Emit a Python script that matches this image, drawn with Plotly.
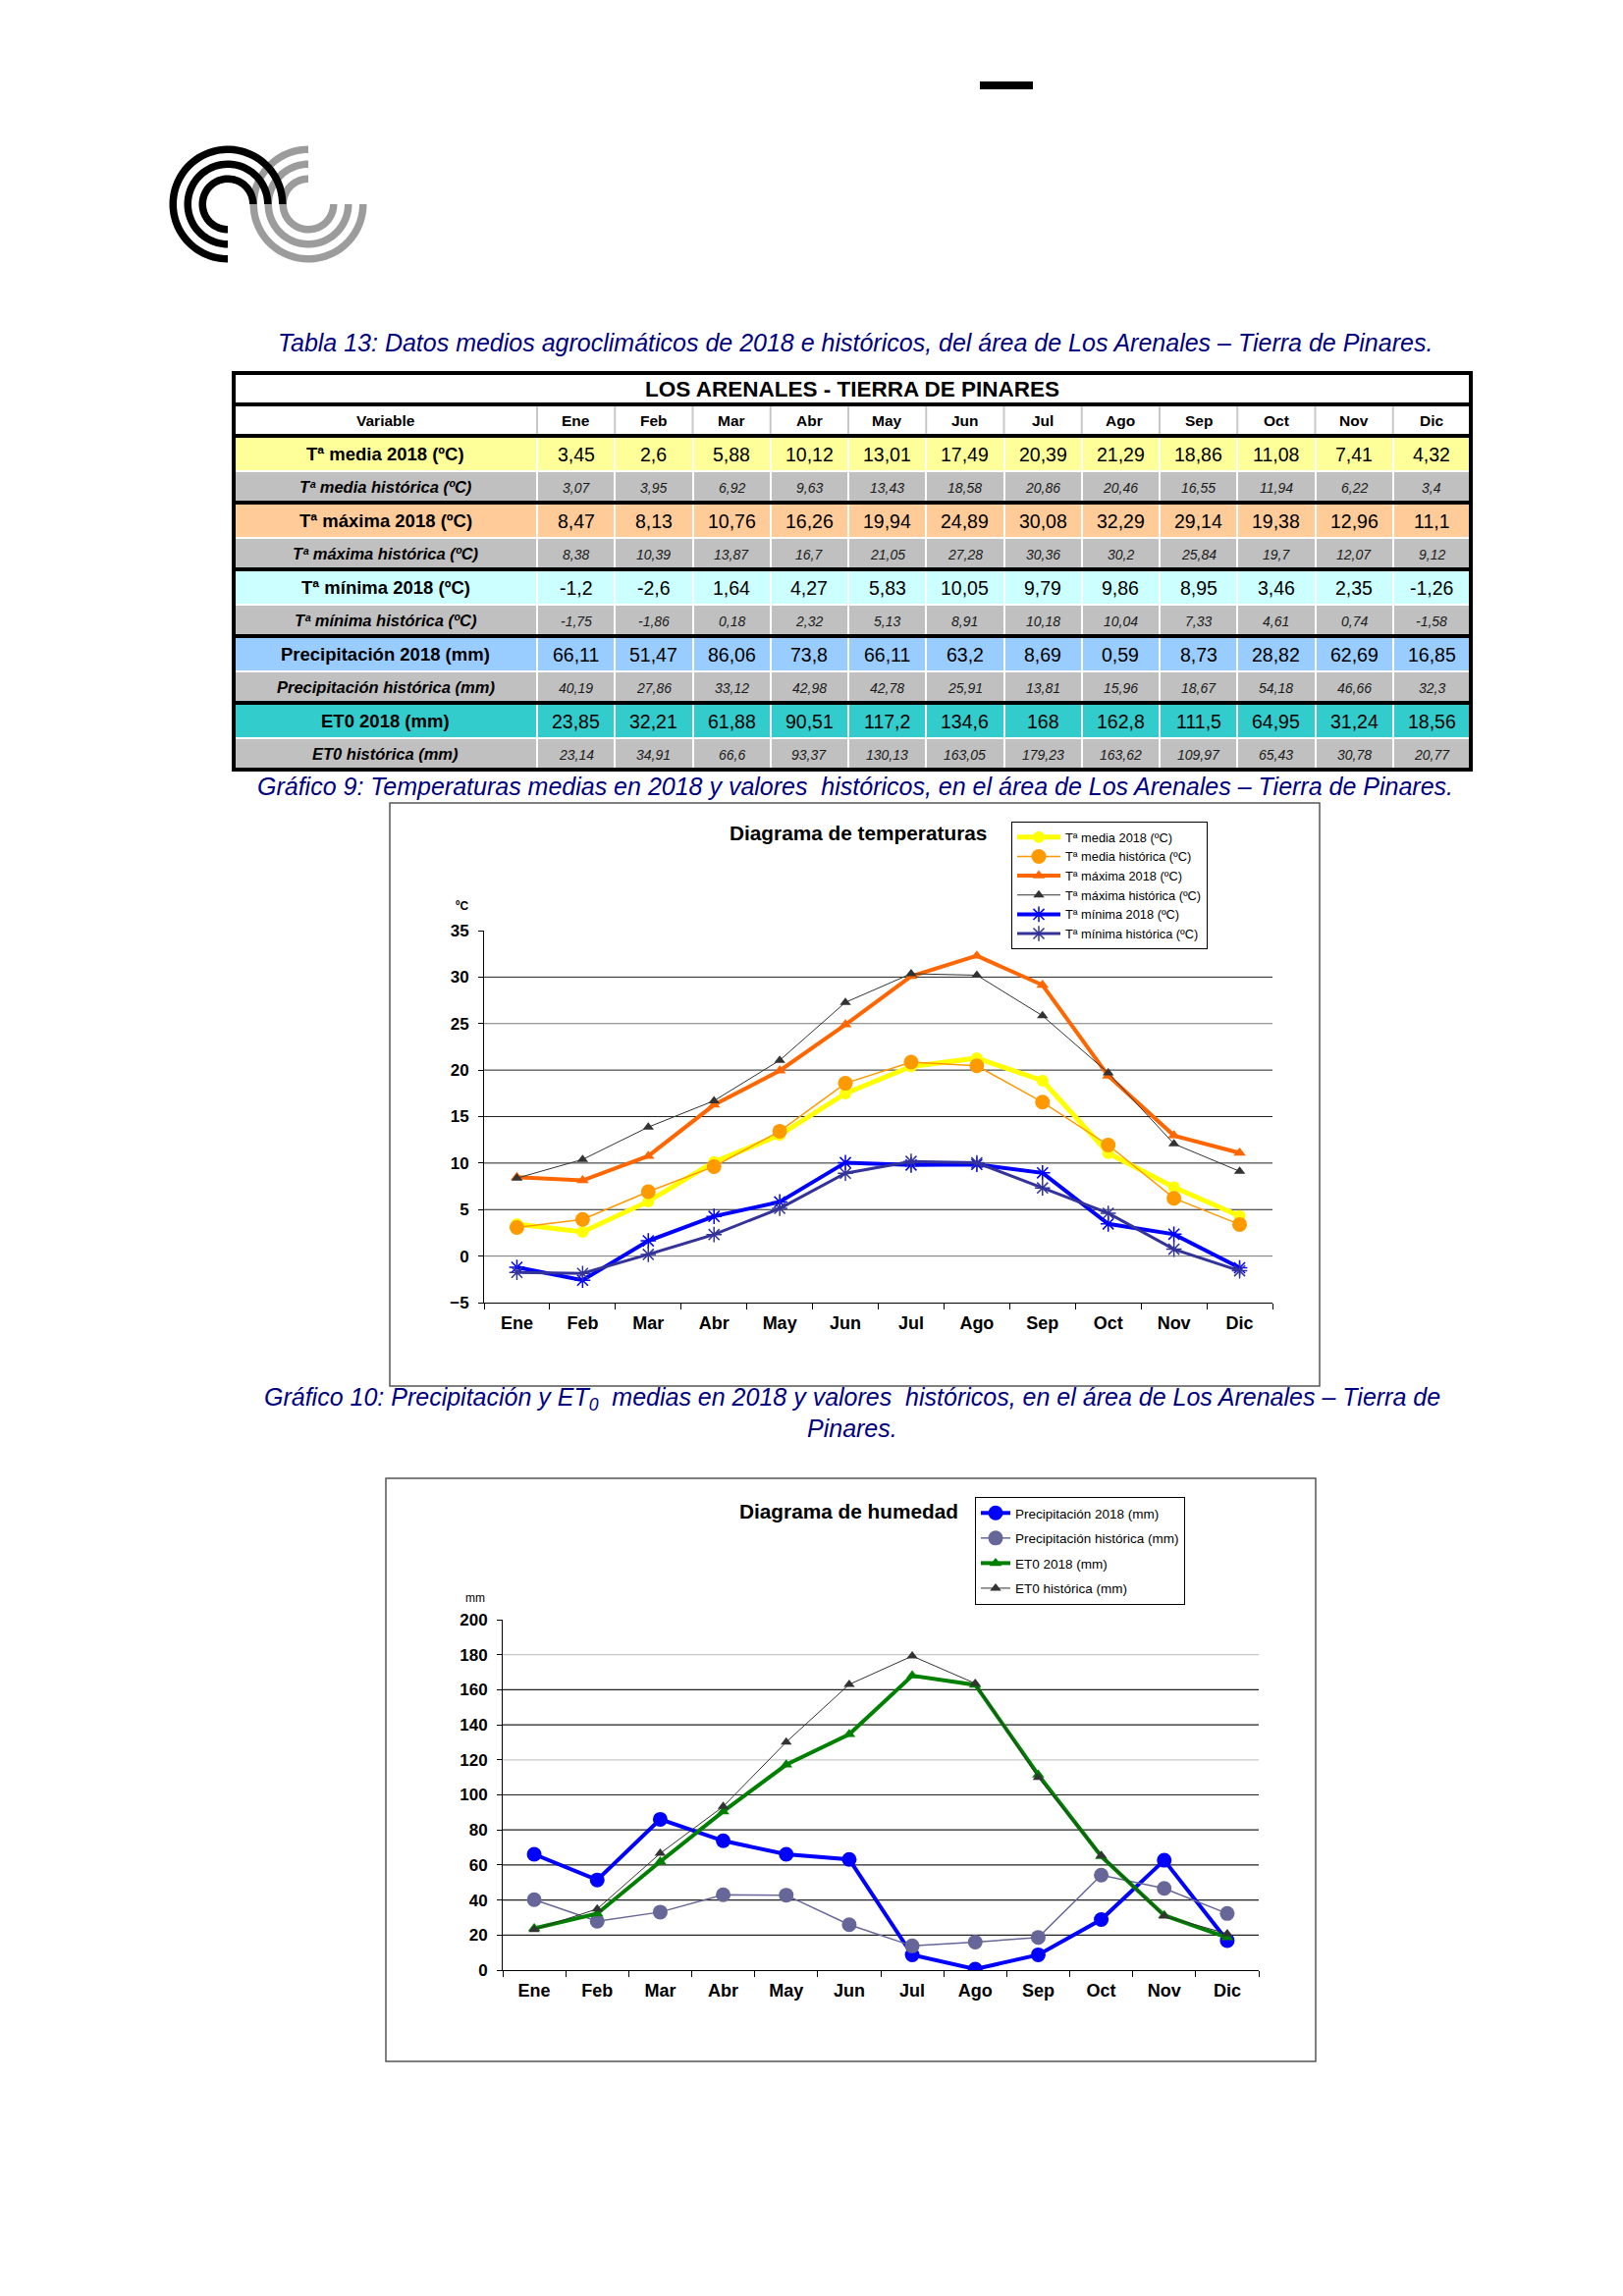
import numpy as np
import plotly.graph_objects as go

# ---------------- DATA ----------------
MONTHS = ["Ene", "Feb", "Mar", "Abr", "May", "Jun", "Jul", "Ago", "Sep", "Oct", "Nov", "Dic"]

T_MEDIA_2018 = [3.45, 2.6, 5.88, 10.12, 13.01, 17.49, 20.39, 21.29, 18.86, 11.08, 7.41, 4.32]
T_MEDIA_HIST = [3.07, 3.95, 6.92, 9.63, 13.43, 18.58, 20.86, 20.46, 16.55, 11.94, 6.22, 3.4]
T_MAX_2018 = [8.47, 8.13, 10.76, 16.26, 19.94, 24.89, 30.08, 32.29, 29.14, 19.38, 12.96, 11.1]
T_MAX_HIST = [8.38, 10.39, 13.87, 16.7, 21.05, 27.28, 30.36, 30.2, 25.84, 19.7, 12.07, 9.12]
T_MIN_2018 = [-1.2, -2.6, 1.64, 4.27, 5.83, 10.05, 9.79, 9.86, 8.95, 3.46, 2.35, -1.26]
T_MIN_HIST = [-1.75, -1.86, 0.18, 2.32, 5.13, 8.91, 10.18, 10.04, 7.33, 4.61, 0.74, -1.58]
PREC_2018 = [66.11, 51.47, 86.06, 73.8, 66.11, 63.2, 8.69, 0.59, 8.73, 28.82, 62.69, 16.85]
PREC_HIST = [40.19, 27.86, 33.12, 42.98, 42.78, 25.91, 13.81, 15.96, 18.67, 54.18, 46.66, 32.3]
ET0_2018 = [23.85, 32.21, 61.88, 90.51, 117.2, 134.6, 168, 162.8, 111.5, 64.95, 31.24, 18.56]
ET0_HIST = [23.14, 34.91, 66.6, 93.37, 130.13, 163.05, 179.23, 163.62, 109.97, 65.43, 30.78, 20.77]

ROW_LABELS = ["Tª media 2018 (ºC)", "Tª media histórica (ºC)",
              "Tª máxima 2018 (ºC)", "Tª máxima histórica (ºC)",
              "Tª mínima 2018 (ºC)", "Tª mínima histórica (ºC)",
              "Precipitación 2018 (mm)", "Precipitación histórica (mm)",
              "ET0 2018 (mm)", "ET0 histórica (mm)"]
ROW_VALUES = [T_MEDIA_2018, T_MEDIA_HIST, T_MAX_2018, T_MAX_HIST, T_MIN_2018, T_MIN_HIST,
              PREC_2018, PREC_HIST, ET0_2018, ET0_HIST]

TABLE_TITLE = "LOS ARENALES - TIERRA DE PINARES"
HEADER_FIRST = "Variable"

CAPTION_TABLE = "Tabla 13: Datos medios agroclimáticos de 2018 e históricos, del área de Los Arenales – Tierra de Pinares."
CAPTION_G9 = "Gráfico 9: Temperaturas medias en 2018 y valores  históricos, en el área de Los Arenales – Tierra de Pinares."
CAPTION_G10_L1 = "Gráfico 10: Precipitación y ET<sub>0</sub>  medias en 2018 y valores  históricos, en el área de Los Arenales – Tierra de"
CAPTION_G10_L2 = "Pinares."
TITLE_G9 = "Diagrama de temperaturas"
TITLE_G10 = "Diagrama de humedad"

TEMP_TICKS = [-5, 0, 5, 10, 15, 20, 25, 30, 35]
HUM_TICKS = [0, 20, 40, 60, 80, 100, 120, 140, 160, 180, 200]

# ---------------- PAGE GEOMETRY ----------------
OFF = 8
FIG_W, FIG_H = 1630, 2300
FONT = "Liberation Sans, Arial, Helvetica, sans-serif"
NAVY = "#000080"


def px(x):
    return (x - OFF) / FIG_W


def py(y):
    return 1 - (y - OFF) / FIG_H


fig = go.Figure()
shapes = []
annotations = []

# ---------------- TABLE (heatmap on page-pixel axis) ----------------
ROW_FILLS = ["#FFFF99", "#C0C0C0", "#FFCC99", "#C0C0C0", "#CCFFFF", "#C0C0C0",
             "#99CCFF", "#C0C0C0", "#33CCCC", "#C0C0C0"]
PALETTE = ["#FFFFFF", "#FFFF99", "#C0C0C0", "#FFCC99", "#CCFFFF", "#99CCFF", "#33CCCC"]
T_LEFT, T_TOP = 238, 380
VAR_W, MON_W = 309, 79.25
row_heights = [32, 32] + [36, 32] * 5
row_edges = list(np.cumsum([T_TOP] + row_heights))
col_edges = [T_LEFT, T_LEFT + VAR_W] + [T_LEFT + VAR_W + MON_W * (k + 1) for k in range(12)]
T_RIGHT = col_edges[-1]

zrows = [[0] * 13, [0] * 13]
for fc in ROW_FILLS:
    zrows.append([PALETTE.index(fc)] * 13)
cs = []
n = len(PALETTE)
for i, c in enumerate(PALETTE):
    cs.append([i / n, c])
    cs.append([(i + 1) / n, c])

fig.add_trace(go.Heatmap(x=col_edges, y=row_edges, z=zrows, colorscale=cs, zmin=0, zmax=n - 1,
                         showscale=False, xgap=2, ygap=2, hoverinfo="skip",
                         xaxis="x3", yaxis="y3", showlegend=False))

# header light separators
for xe in col_edges[1:-1]:
    shapes.append(dict(type="line", xref="x3", yref="y3", x0=xe, x1=xe, y0=row_edges[1] + 2,
                       y1=row_edges[2] - 2, line=dict(color="#C8C8C8", width=2)))
# thick black lines
for k in [1, 2, 4, 6, 8, 10]:
    shapes.append(dict(type="line", xref="x3", yref="y3", x0=T_LEFT, x1=T_RIGHT,
                       y0=row_edges[k], y1=row_edges[k], line=dict(color="black", width=4)))
shapes.append(dict(type="rect", xref="x3", yref="y3", x0=T_LEFT, x1=T_RIGHT, y0=T_TOP,
                   y1=row_edges[-1], line=dict(color="black", width=4)))


def mid(a, i):
    return (a[i] + a[i + 1]) / 2


def fmt(v):
    return f"{v:g}".replace(".", ",")


annotations.append(dict(xref="x3", yref="y3", x=(T_LEFT + T_RIGHT) / 2, y=mid(row_edges, 0),
                        text=TABLE_TITLE, showarrow=False,
                        font=dict(family=FONT, size=22.5, color="black", weight="bold")))
for j, h in enumerate([HEADER_FIRST] + MONTHS):
    annotations.append(dict(xref="x3", yref="y3", x=mid(col_edges, j), y=mid(row_edges, 1),
                            text=h, showarrow=False,
                            font=dict(family=FONT, size=15.5, color="black", weight="bold")))
for r, (lab, vals) in enumerate(zip(ROW_LABELS, ROW_VALUES)):
    yc = mid(row_edges, r + 2)
    is_hist = r % 2 == 1
    if is_hist:
        lf = dict(family=FONT, size=16.5, color="black", weight="bold", style="italic")
        vf = dict(family=FONT, size=14, color="#1a1a1a", style="italic")
    else:
        lf = dict(family=FONT, size=18.5, color="black", weight="bold")
        vf = dict(family=FONT, size=19.5, color="black")
    annotations.append(dict(xref="x3", yref="y3", x=mid(col_edges, 0), y=yc, text=lab,
                            showarrow=False, font=lf))
    for j, v in enumerate(vals):
        annotations.append(dict(xref="x3", yref="y3", x=mid(col_edges, j + 1), y=yc + 1,
                                text=fmt(v), showarrow=False, font=vf))

# ---------------- CAPTIONS ----------------
cap_font = dict(family=FONT, size=25, color=NAVY, style="italic")
for txt, xc, yc in [(CAPTION_TABLE, 871, 349), (CAPTION_G9, 871, 801),
                    (CAPTION_G10_L1, 868, 1425), (CAPTION_G10_L2, 868, 1455)]:
    annotations.append(dict(xref="x3", yref="y3", x=xc, y=yc, text=txt, showarrow=False,
                            font=cap_font))

# ---------------- LOGO + top dash ----------------
def ring_sector(cx, cy, r_in, r_out, a0, a1, npts=72):
    t = np.radians(np.linspace(a0, a1, npts))
    pts = [(cx + r_out * np.cos(a), cy - r_out * np.sin(a)) for a in t]
    pts += [(cx + r_in * np.cos(a), cy - r_in * np.sin(a)) for a in t[::-1]]
    return "M " + " L ".join(f"{x:.2f},{y:.2f}" for x, y in pts) + " Z"


LOGO_BANDS = [(22, 29.5), (37, 44.5), (52, 59.5)]
for r_in, r_out in LOGO_BANDS:
    shapes.append(dict(type="path", xref="x3", yref="y3", path=ring_sector(314, 208, r_in, r_out, 90, 360),
                       fillcolor="#9C9C9C", line=dict(width=0)))
for r_in, r_out in LOGO_BANDS:
    shapes.append(dict(type="path", xref="x3", yref="y3", path=ring_sector(232, 208, r_in, r_out, 0, 270),
                       fillcolor="#000000", line=dict(width=0)))
shapes.append(dict(type="rect", xref="x3", yref="y3", x0=998, x1=1052, y0=83, y1=91,
                   fillcolor="black", line=dict(width=0)))

# ---------------- CHART FRAMES & TITLES ----------------
shapes.append(dict(type="rect", xref="x3", yref="y3", x0=397, x1=1344, y0=818, y1=1412,
                   line=dict(color="#555555", width=1.5)))
shapes.append(dict(type="rect", xref="x3", yref="y3", x0=393, x1=1340, y0=1506, y1=2100,
                   line=dict(color="#555555", width=1.5)))
annotations.append(dict(xref="x3", yref="y3", x=874, y=848, text=TITLE_G9, showarrow=False,
                        font=dict(family=FONT, size=20.8, color="black", weight="bold")))
annotations.append(dict(xref="x3", yref="y3", x=864, y=1539, text=TITLE_G10, showarrow=False,
                        font=dict(family=FONT, size=20.8, color="black", weight="bold")))
annotations.append(dict(xref="x3", yref="y3", x=470, y=923, text="ºC", showarrow=False,
                        font=dict(family=FONT, size=12, color="black", weight="bold")))
annotations.append(dict(xref="x3", yref="y3", x=484, y=1628, text="mm", showarrow=False,
                        font=dict(family=FONT, size=12, color="black")))

# ---------------- CHART 1: temperatures ----------------
temp_styles = [
    (ROW_LABELS[0], T_MEDIA_2018, dict(color="#FFFF00", width=5), dict(symbol="circle", size=12, color="#FFFF00")),
    (ROW_LABELS[1], T_MEDIA_HIST, dict(color="#FF9900", width=1.5), dict(symbol="circle", size=15, color="#FF9900")),
    (ROW_LABELS[2], T_MAX_2018, dict(color="#FF6600", width=4), dict(symbol="triangle-up", size=11, color="#FF6600")),
    (ROW_LABELS[3], T_MAX_HIST, dict(color="#333333", width=1), dict(symbol="triangle-up", size=10, color="#333333")),
    (ROW_LABELS[4], T_MIN_2018, dict(color="#0000FF", width=4),
     dict(symbol="asterisk-open", size=13, color="#0000FF", line=dict(color="#0000FF", width=1.5))),
    (ROW_LABELS[5], T_MIN_HIST, dict(color="#333399", width=3),
     dict(symbol="asterisk-open", size=13, color="#333399", line=dict(color="#333399", width=1.5))),
]
for name, vals, ln, mk in temp_styles:
    fig.add_trace(go.Scatter(x=MONTHS, y=vals, name=name, mode="lines+markers", line=ln, marker=mk,
                             xaxis="x", yaxis="y", legend="legend", hoverinfo="skip"))

# ---------------- CHART 2: humidity ----------------
hum_styles = [
    (ROW_LABELS[6], PREC_2018, dict(color="#0000FF", width=4), dict(symbol="circle", size=15, color="#0000FF")),
    (ROW_LABELS[7], PREC_HIST, dict(color="#666699", width=1.5), dict(symbol="circle", size=15, color="#666699")),
    (ROW_LABELS[8], ET0_2018, dict(color="#008000", width=4), dict(symbol="triangle-up", size=11, color="#008000")),
    (ROW_LABELS[9], ET0_HIST, dict(color="#333333", width=1), dict(symbol="triangle-up", size=10, color="#333333")),
]
for k, (name, vals, ln, mk) in enumerate(hum_styles):
    fig.add_trace(go.Scatter(x=MONTHS, y=vals, name=name, mode="lines+markers", line=ln, marker=mk,
                             xaxis="x2", yaxis="y2", legend="legend2", legendgroup=f"h{k}",
                             hoverinfo="skip"))

# gridlines
for v in [0, 5, 10, 15, 20, 25, 30]:
    col = "#777777" if v in (0, 25) else "#222222"
    shapes.append(dict(type="line", xref="x domain", yref="y", x0=0, x1=1, y0=v, y1=v,
                       line=dict(color=col, width=1), layer="below"))
for v in [20, 40, 60, 80, 100, 120, 140, 160, 180]:
    col = "#C8C8C8" if v in (120, 180) else "#222222"
    shapes.append(dict(type="line", xref="x2 domain", yref="y2", x0=0, x1=1, y0=v, y1=v,
                       line=dict(color=col, width=1.2), layer="below"))

xcommon = dict(type="category", tickson="boundaries", ticks="outside", ticklen=6, tickcolor="black",
               showline=True, linecolor="black", linewidth=1, showgrid=False, zeroline=False,
               tickfont=dict(family=FONT, size=18, color="black", weight="bold"),
               ticklabelstandoff=4, fixedrange=True, categoryorder="array", categoryarray=MONTHS,
               range=[-0.5, len(MONTHS) - 0.5], autorange=False)
ycommon = dict(ticks="outside", ticklen=5, tickcolor="black", showline=True, linecolor="black",
               linewidth=1, showgrid=False, zeroline=False,
               tickfont=dict(family=FONT, size=17, color="black", weight="bold"), fixedrange=True,
               ticklabelstandoff=6)

fig.update_layout(
    width=FIG_W, height=FIG_H, margin=dict(l=0, r=0, t=0, b=0, pad=0, autoexpand=False),
    paper_bgcolor="white", plot_bgcolor="rgba(0,0,0,0)",
    showlegend=True,
    xaxis=dict(domain=[px(493), px(1296)], anchor="y", **xcommon),
    yaxis=dict(domain=[py(1327), py(948)], anchor="x", range=[-5, 35], tickvals=TEMP_TICKS, **ycommon),
    xaxis2=dict(domain=[px(512), px(1282)], anchor="y2", **xcommon),
    yaxis2=dict(domain=[py(2007), py(1650)], anchor="x2", range=[0, 200], tickvals=HUM_TICKS, **ycommon),
    xaxis3=dict(domain=[0, 1], range=[OFF, OFF + FIG_W], visible=False, fixedrange=True, anchor="y3"),
    yaxis3=dict(domain=[0, 1], range=[OFF + FIG_H, OFF], visible=False, fixedrange=True, anchor="x3"),
    legend=dict(x=px(1030), y=py(837), xanchor="left", yanchor="top", bordercolor="black",
                borderwidth=1, bgcolor="white", font=dict(family=FONT, size=12.8, color="black"),
                itemwidth=44, tracegroupgap=0, entrywidth=168, entrywidthmode="pixels"),
    legend2=dict(x=px(993), y=py(1525), xanchor="left", yanchor="top", bordercolor="black",
                 borderwidth=1, bgcolor="white", font=dict(family=FONT, size=13.5, color="black"),
                 itemwidth=30, traceorder="grouped", tracegroupgap=5),
    shapes=shapes, annotations=annotations,
)

fig.write_html("out.html", config={"displayModeBar": False})
